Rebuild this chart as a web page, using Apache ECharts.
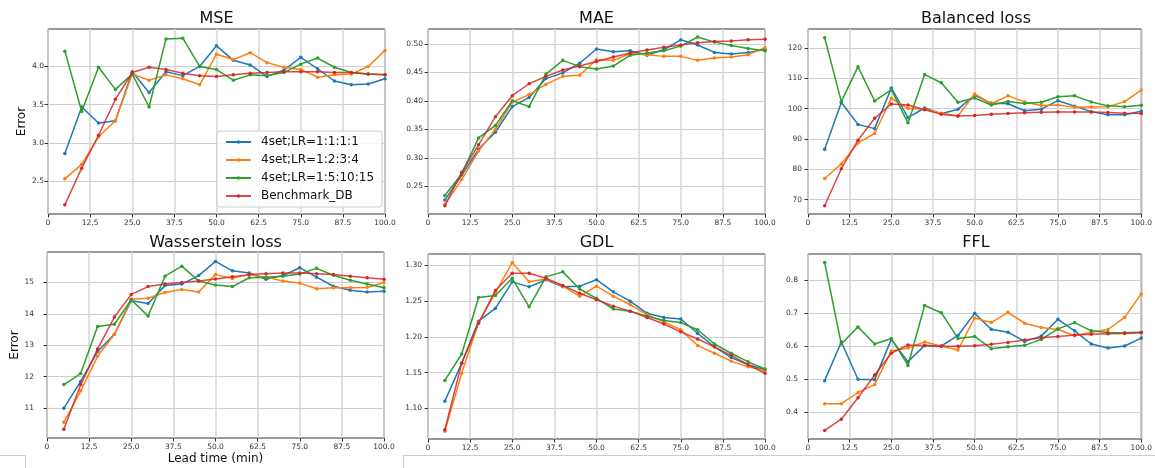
<!DOCTYPE html>
<html>
<head>
<meta charset="utf-8">
<script src="https://cdn.jsdelivr.net/npm/echarts@6/dist/echarts.min.js"></script>
<style>
html,body{margin:0;padding:0;background:#fff;}
#chart{width:1155px;height:468px;}
</style>
</head>
<body>
<div id="chart"></div>
<script>
// ---- data ----
const leadTimes = [5,10,15,20,25,30,35,40,45,50,55,60,65,70,75,80,85,90,95,100];
const seriesNames = ['4set;LR=1:1:1:1','4set;LR=1:2:3:4','4set;LR=1:5:10:15','Benchmark_DB'];
const titles = ['MSE','MAE','Balanced loss','Wasserstein loss','GDL','FFL'];

const mse_lr1111   = [2.86,3.47,3.26,3.29,3.93,3.66,3.93,3.88,4.00,4.27,4.08,4.02,3.87,3.95,4.12,3.97,3.81,3.76,3.77,3.84];
const mse_lr1234   = [2.53,2.72,3.08,3.29,3.90,3.82,3.89,3.84,3.76,4.16,4.09,4.18,4.05,3.99,3.96,3.86,3.89,3.90,4.00,4.21];
const mse_lr151015 = [4.20,3.41,3.99,3.70,3.90,3.47,4.36,4.37,4.00,3.96,3.82,3.89,3.88,3.92,4.03,4.11,3.99,3.92,3.90,3.89];
const mse_bench    = [2.19,2.67,3.10,3.57,3.92,3.99,3.96,3.91,3.88,3.87,3.89,3.91,3.92,3.93,3.93,3.93,3.92,3.92,3.90,3.89];

const mae_lr1111   = [0.226,0.270,0.315,0.345,0.390,0.406,0.439,0.449,0.466,0.491,0.486,0.488,0.480,0.490,0.507,0.498,0.485,0.482,0.485,0.490];
const mae_lr1234   = [0.218,0.262,0.312,0.350,0.398,0.411,0.429,0.443,0.445,0.472,0.471,0.483,0.481,0.478,0.478,0.471,0.475,0.477,0.481,0.493];
const mae_lr151015 = [0.234,0.272,0.335,0.357,0.400,0.390,0.447,0.471,0.460,0.456,0.461,0.480,0.484,0.488,0.496,0.512,0.503,0.497,0.492,0.488];
const mae_bench    = [0.216,0.275,0.323,0.372,0.409,0.430,0.443,0.454,0.461,0.469,0.477,0.484,0.489,0.494,0.498,0.502,0.504,0.505,0.507,0.508];

const bal_lr1111   = [86.6,102.0,94.8,93.4,106.8,97.0,100.2,98.3,99.8,104.4,101.8,101.6,99.3,99.8,102.6,100.8,99.0,98.0,98.0,99.1];
const bal_lr1234   = [77.0,81.8,88.7,91.8,103.4,100.0,99.8,98.5,97.6,104.8,101.6,104.2,102.2,101.0,101.2,100.4,100.5,100.6,102.3,106.1];
const bal_lr151015 = [123.3,102.3,113.8,102.5,106.2,95.3,111.2,108.5,102.1,103.5,101.2,102.3,101.7,102.1,103.9,104.2,102.2,100.9,100.6,101.1];
const bal_bench    = [68.0,80.2,89.6,96.8,101.5,101.2,99.6,98.1,97.6,97.7,98.1,98.4,98.6,98.8,98.9,98.9,98.9,98.7,98.5,98.4];

const was_lr1111   = [11.00,11.85,12.80,13.35,14.42,14.33,14.90,14.95,15.22,15.67,15.37,15.30,15.10,15.22,15.47,15.17,14.88,14.75,14.70,14.72];
const was_lr1234   = [10.55,11.55,12.65,13.35,14.47,14.50,14.68,14.78,14.70,15.25,15.13,15.25,15.17,15.05,14.98,14.80,14.83,14.83,14.84,15.00];
const was_lr151015 = [11.75,12.10,13.60,13.67,14.45,13.93,15.20,15.52,15.05,14.92,14.87,15.15,15.17,15.20,15.27,15.45,15.23,15.07,14.95,14.83];
const was_bench    = [10.33,11.75,12.88,13.90,14.62,14.87,14.95,15.00,15.05,15.11,15.18,15.25,15.28,15.30,15.30,15.28,15.25,15.20,15.15,15.10];

const gdl_lr1111   = [1.110,1.163,1.222,1.240,1.277,1.270,1.280,1.270,1.271,1.280,1.263,1.250,1.233,1.227,1.225,1.205,1.186,1.171,1.161,1.154];
const gdl_lr1234   = [1.068,1.149,1.220,1.262,1.304,1.277,1.281,1.271,1.257,1.271,1.257,1.245,1.231,1.221,1.210,1.188,1.177,1.166,1.158,1.153];
const gdl_lr151015 = [1.139,1.176,1.255,1.258,1.282,1.242,1.284,1.291,1.267,1.254,1.239,1.236,1.229,1.223,1.220,1.210,1.190,1.177,1.165,1.155];
const gdl_bench    = [1.070,1.163,1.219,1.265,1.289,1.289,1.282,1.272,1.261,1.252,1.243,1.236,1.227,1.218,1.207,1.197,1.186,1.174,1.161,1.149];

const ffl_lr1111   = [0.495,0.612,0.499,0.498,0.620,0.552,0.602,0.600,0.632,0.699,0.651,0.642,0.614,0.630,0.681,0.646,0.606,0.594,0.600,0.624];
const ffl_lr1234   = [0.425,0.425,0.459,0.483,0.585,0.594,0.612,0.600,0.588,0.685,0.671,0.702,0.669,0.656,0.650,0.631,0.642,0.650,0.687,0.758];
const ffl_lr151015 = [0.853,0.606,0.658,0.606,0.623,0.541,0.723,0.701,0.623,0.629,0.592,0.598,0.602,0.620,0.652,0.671,0.646,0.641,0.640,0.642];
const ffl_bench    = [0.344,0.378,0.443,0.512,0.578,0.603,0.601,0.599,0.599,0.601,0.605,0.611,0.618,0.625,0.629,0.633,0.636,0.637,0.638,0.640];

// y tick values per panel
const mseTicks = [2.5,3.0,3.5,4.0];
const maeTicks = [0.25,0.30,0.35,0.40,0.45,0.50];
const balTicks = [70,80,90,100,110,120];
const wasTicks = [11,12,13,14,15];
const gdlTicks = [1.10,1.15,1.20,1.25,1.30];
const fflTicks = [0.4,0.5,0.6,0.7,0.8];

// ---- layout / style ----
const colors = ['#1f77b4','#ff7f0e','#2ca02c','#d62728'];
const FONT = 'DejaVu Sans';
const panels = [
  {data:[mse_lr1111,mse_lr1234,mse_lr151015,mse_bench], ticks:mseTicks, dec:1, min:2.07, max:4.49, grid:{left:48,top:29,width:337,height:185}, labelMargin:4, ylabel:true, yGap:20},
  {data:[mae_lr1111,mae_lr1234,mae_lr151015,mae_bench], ticks:maeTicks, dec:2, min:0.2016, max:0.526, grid:{left:428,top:29,width:337,height:185}, labelMargin:5},
  {data:[bal_lr1111,bal_lr1234,bal_lr151015,bal_bench], ticks:balTicks, dec:0, min:65.3, max:126.2, grid:{left:808,top:29,width:336,height:185}, labelMargin:6},
  {data:[was_lr1111,was_lr1234,was_lr151015,was_bench], ticks:wasTicks, dec:0, min:10.05, max:15.97, grid:{left:47,top:252,width:337,height:186}, labelMargin:13, ylabel:true, yGap:24, xlabel:true},
  {data:[gdl_lr1111,gdl_lr1234,gdl_lr151015,gdl_bench], ticks:gdlTicks, dec:2, min:1.057, max:1.316, grid:{left:428,top:254,width:337,height:185}, labelMargin:6},
  {data:[ffl_lr1111,ffl_lr1234,ffl_lr151015,ffl_bench], ticks:fflTicks, dec:1, min:0.318, max:0.879, grid:{left:808,top:254,width:336,height:185}, labelMargin:10}
];

const grid = [], xAxis = [], yAxis = [], series = [], graphic = [];
panels.forEach((p, i) => {
  grid.push(Object.assign({show:true, borderColor:'#333', borderWidth:1, backgroundColor:'#fff', containLabel:false}, p.grid));
  xAxis.push({
    type:'value', gridIndex:i, min:0, max:100, interval:12.5,
    axisLine:{show:false},
    axisTick:{show:true, length:3.5, lineStyle:{color:'#333'}},
    axisLabel:{fontFamily:FONT, fontSize:7.5, color:'#333', margin:5,
      formatter:v => v === 0 ? '0' : v.toFixed(1)},
    splitLine:{show:true, lineStyle:{color:'#d6d6d6', width:1.5}},
    name: p.xlabel ? 'Lead time (min)' : '',
    nameLocation:'middle', nameGap:15,
    nameTextStyle:{fontFamily:FONT, fontSize:12, color:'#111'}
  });
  yAxis.push({
    type:'value', gridIndex:i, min:p.min, max:p.max,
    axisLine:{show:false},
    axisTick:{show:true, length:3.5, lineStyle:{color:'#333'}, customValues:p.ticks},
    axisLabel:{fontFamily:FONT, fontSize:7.5, color:'#333', margin:p.labelMargin, customValues:p.ticks,
      formatter:v => v.toFixed(p.dec)},
    splitLine:{show:true, lineStyle:{color:'#cfcfcf', width:1}},
    name: p.ylabel ? 'Error' : '',
    nameLocation:'middle', nameGap:p.yGap || 20,
    nameTextStyle:{fontFamily:FONT, fontSize:12, color:'#111'}
  });
  p.data.forEach((vals, s) => {
    series.push({
      type:'line', name:seriesNames[s], xAxisIndex:i, yAxisIndex:i,
      data: leadTimes.map((x, k) => [x, vals[k]]),
      symbol:'circle', symbolSize:3.5, showSymbol:true,
      color:colors[s],
      lineStyle:{width:1.5, color:colors[s], opacity: s === 3 ? 0.85 : 1},
      itemStyle:{color:colors[s]},
      animation:false, z: 2 + s
    });
  });
  const cx = p.grid.left + p.grid.width / 2;
  graphic.push({type:'text', x:cx, y: i < 3 ? 19 : 243,
    style:{text:titles[i], align:'center', verticalAlign:'middle', font:'16px "DejaVu Sans"', fill:'#111'}});
});

// faint border artifacts at bottom of the picture
graphic.push({type:'polyline', shape:{points:[[0,455.5],[25.5,455.5],[25.5,468]]}, style:{stroke:'#cccccc', fill:null, lineWidth:1}});
graphic.push({type:'polyline', shape:{points:[[403.5,468],[403.5,455.5],[1155,455.5]]}, style:{stroke:'#cccccc', fill:null, lineWidth:1}});

const chart = echarts.init(document.getElementById('chart'), null, {renderer:'canvas'});
chart.setOption({
  animation:false,
  backgroundColor:'#fff',
  grid, xAxis, yAxis, series, graphic,
  legend:{
    data:seriesNames, orient:'vertical', left:217, top:131,
    padding:[4,8,4,8], itemGap:4, itemWidth:25, itemHeight:4.5,
    backgroundColor:'rgba(255,255,255,0.85)', borderColor:'#cccccc', borderWidth:1, borderRadius:3,
    textStyle:{fontFamily:FONT, fontSize:12, lineHeight:14, color:'#111', padding:[0,0,0,5]},
    z:20
  }
});
</script>
</body>
</html>
